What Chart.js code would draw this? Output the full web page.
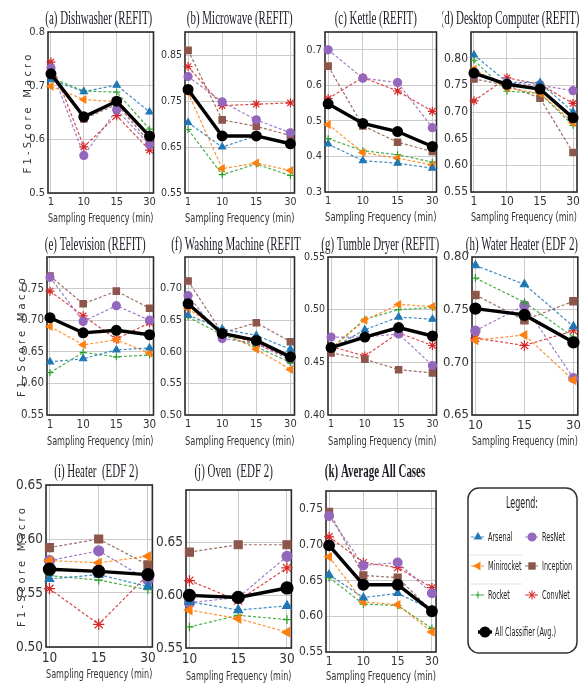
<!DOCTYPE html>
<html>
<head>
<meta charset="utf-8">
<script src="https://cdn.jsdelivr.net/npm/chart.js@4.4.1/dist/chart.umd.min.js"></script>
<style>
  body { margin: 0; background: #fff; }
  #wrap { position: relative; width: 585px; height: 686px; overflow: hidden; }
  canvas { position: absolute; }
</style>
</head>
<body>
<div id="wrap"></div>
<script>
// categories
const freqs4 = ['1', '10', '15', '30'];
const freqs3 = ['10', '15', '30'];
const classifiers = ['Arsenal', 'Minirocket', 'Rocket', 'ResNet', 'Inception', 'ConvNet'];
const avgLabel = 'All Classifier (Avg.)';

// F1 macro per panel: rows = Arsenal, Minirocket, Rocket, ResNet, Inception, ConvNet, Avg
const dishwasher = [
  [0.711, 0.689, 0.701, 0.651],
  [0.699, 0.674, 0.670, 0.605],
  [0.715, 0.690, 0.688, 0.619],
  [0.733, 0.570, 0.655, 0.590],
  [0.725, 0.638, 0.665, 0.595],
  [0.744, 0.586, 0.644, 0.580],
  [0.722, 0.642, 0.671, 0.606]
];
const microwave = [
  [0.703, 0.650, 0.674, 0.655],
  [0.768, 0.603, 0.615, 0.599],
  [0.688, 0.590, 0.613, 0.588],
  [0.803, 0.748, 0.709, 0.681],
  [0.860, 0.709, 0.695, 0.675],
  [0.825, 0.740, 0.743, 0.746],
  [0.775, 0.674, 0.674, 0.657]
];
const kettle = [
  [0.435, 0.388, 0.381, 0.367],
  [0.490, 0.411, 0.395, 0.376],
  [0.450, 0.416, 0.405, 0.384],
  [0.700, 0.620, 0.608, 0.481],
  [0.654, 0.486, 0.440, 0.414],
  [0.563, 0.622, 0.584, 0.527],
  [0.548, 0.493, 0.470, 0.428]
];
const desktop = [
  [0.807, 0.756, 0.755, 0.700],
  [0.780, 0.745, 0.735, 0.680],
  [0.797, 0.739, 0.735, 0.675],
  [0.770, 0.755, 0.750, 0.740],
  [0.762, 0.750, 0.726, 0.624],
  [0.721, 0.764, 0.752, 0.716],
  [0.773, 0.752, 0.743, 0.689]
];
const television = [
  [0.634, 0.639, 0.653, 0.656],
  [0.690, 0.661, 0.669, 0.648],
  [0.617, 0.649, 0.642, 0.645],
  [0.768, 0.698, 0.723, 0.700],
  [0.770, 0.726, 0.746, 0.719],
  [0.746, 0.707, 0.670, 0.696],
  [0.704, 0.680, 0.684, 0.677]
];
const washing = [
  [0.658, 0.636, 0.626, 0.604],
  [0.668, 0.632, 0.604, 0.572],
  [0.655, 0.627, 0.608, 0.583],
  [0.689, 0.621, 0.613, 0.587],
  [0.712, 0.630, 0.646, 0.616],
  [0.674, 0.630, 0.613, 0.590],
  [0.676, 0.629, 0.618, 0.592]
];
const tumble = [
  [0.463, 0.481, 0.493, 0.491],
  [0.463, 0.490, 0.505, 0.503],
  [0.463, 0.491, 0.500, 0.502],
  [0.474, 0.474, 0.477, 0.447],
  [0.459, 0.453, 0.443, 0.440],
  [0.465, 0.456, 0.478, 0.466],
  [0.464, 0.474, 0.483, 0.475]
];
const waterHeater = [
  [0.792, 0.774, 0.734],
  [0.721, 0.726, 0.683],
  [0.780, 0.757, 0.724],
  [0.730, 0.754, 0.685],
  [0.764, 0.740, 0.758],
  [0.723, 0.716, 0.730],
  [0.751, 0.745, 0.719]
];
const heater = [
  [0.563, 0.567, 0.556],
  [0.580, 0.578, 0.584],
  [0.566, 0.562, 0.553],
  [0.580, 0.589, 0.562],
  [0.592, 0.600, 0.576],
  [0.554, 0.521, 0.567],
  [0.572, 0.570, 0.567]
];
const oven = [
  [0.594, 0.586, 0.590],
  [0.586, 0.578, 0.565],
  [0.570, 0.581, 0.577],
  [0.593, 0.598, 0.637],
  [0.641, 0.648, 0.648],
  [0.614, 0.595, 0.626],
  [0.600, 0.598, 0.607]
];
const averageAll = [
  [0.658, 0.626, 0.632, 0.609],
  [0.683, 0.620, 0.616, 0.578],
  [0.654, 0.617, 0.615, 0.583],
  [0.740, 0.671, 0.675, 0.632],
  [0.746, 0.657, 0.654, 0.607],
  [0.711, 0.675, 0.668, 0.640],
  [0.699, 0.644, 0.644, 0.607]
];

// y tick labels per panel
const dishTicks = ['0.5', '0.6', '0.7', '0.8'];
const microTicks = ['0.55', '0.65', '0.75', '0.85'];
const kettleTicks = ['0.3', '0.4', '0.5', '0.6', '0.7'];
const desktopTicks = ['0.55', '0.60', '0.65', '0.70', '0.75', '0.80'];
const tvTicks = ['0.55', '0.60', '0.65', '0.70', '0.75'];
const washTicks = ['0.50', '0.55', '0.60', '0.65', '0.70'];
const tumbleTicks = ['0.40', '0.45', '0.50', '0.55'];
const waterTicks = ['0.65', '0.70', '0.75', '0.80'];
const heaterTicks = ['0.50', '0.55', '0.60', '0.65'];
const ovenTicks = ['0.55', '0.60', '0.65'];
const avgTicks = ['0.55', '0.60', '0.65', '0.70', '0.75'];

const narrow = '"Liberation Sans Narrow", "DejaVu Sans Condensed", "Arial Narrow", sans-serif';
const serif = '"Liberation Serif", "Times New Roman", serif';

const classStyles = [
  { color: '#1f77b4', line: 'rgba(31,119,180,0.85)', pointStyle: 'triangle', rotation: 0, radius: 4 },
  { color: '#ff7f0e', line: 'rgba(255,127,14,0.85)', pointStyle: 'triangle', rotation: -90, radius: 4 },
  { color: '#2ca02c', line: 'rgba(44,160,44,0.85)', pointStyle: 'cross', rotation: 0, radius: 3.5 },
  { color: '#9467bd', line: 'rgba(148,103,189,0.85)', pointStyle: 'circle', rotation: 0, radius: 4 },
  { color: '#8c564b', line: 'rgba(140,86,75,0.85)', pointStyle: 'rect', rotation: 0, radius: 4.5 },
  { color: '#d62728', line: 'rgba(214,39,40,0.85)', pointStyle: 'star', rotation: 0, radius: 4.5 }
];
const avgStyle = { color: '#000', line: '#000', pointStyle: 'circle', rotation: 0, radius: 4.5 };

// the reference titles are a tall, tightly squeezed serif: squeeze so (a) is ~107px wide
function titleSqueeze(ctx) {
  ctx.save();
  ctx.font = '18px ' + serif;
  const w = ctx.measureText('(a) Dishwasher (REFIT)').width;
  ctx.restore();
  return 107 / w;
}

// frame + squeezed serif title + spaced y title
const panelDeco = {
  id: 'panelDeco',
  beforeDatasetsDraw(chart) {
    const { ctx, chartArea: a } = chart;
    ctx.save();
    ctx.strokeStyle = '#2a2a2a';
    ctx.lineWidth = 1.6;
    ctx.strokeRect(a.left, a.top, a.right - a.left, a.bottom - a.top);
    ctx.restore();
  },
  afterDraw(chart, args, o) {
    if (!o.text) return;
    const { ctx, chartArea: a } = chart;
    const k = titleSqueeze(ctx);
    ctx.save();
    ctx.fillStyle = '#1c1c24';
    ctx.font = (o.bold ? 'bold ' : '') + '18px ' + serif;
    ctx.textAlign = 'center';
    ctx.textBaseline = 'middle';
    ctx.translate((a.left + a.right) / 2 + o.dx, o.y);
    ctx.scale(k, 1);
    ctx.fillText(o.text, 0, 0);
    ctx.restore();
    if (o.yTitleX) {
      ctx.save();
      ctx.fillStyle = '#333';
      ctx.font = '10px "DejaVu Sans", sans-serif';
      ctx.letterSpacing = '3.2px';
      ctx.textAlign = 'center';
      ctx.textBaseline = 'middle';
      ctx.translate(o.yTitleX, (a.top + a.bottom) / 2);
      ctx.rotate(-Math.PI / 2);
      ctx.fillText('F1-Score Macro', 0, 0);
      ctx.restore();
    }
  }
};

const colLeft = [0, 156, 298, 442];

const panels = [
  { title: '(a) Dishwasher (REFIT)', series: dishwasher, freqs: freqs4, yMin: 0.5, yMax: 0.8, ticks: dishTicks, plot: [48, 32, 154, 193], col: 0, fs: 11, titleY: 19, dx: -2, yTitleX: 28, xGap: 26, ms: 1 },
  { title: '(b) Microwave (REFIT)', series: microwave, freqs: freqs4, yMin: 0.55, yMax: 0.9, ticks: microTicks, plot: [185, 32, 295, 193], col: 1, fs: 10.5, titleY: 19, dx: 0, xGap: 26, ms: 1 },
  { title: '(c) Kettle (REFIT)', series: kettle, freqs: freqs4, yMin: 0.3, yMax: 0.75, ticks: kettleTicks, plot: [325, 32, 437, 192], col: 2, fs: 11, titleY: 19, dx: -5, xGap: 26, ms: 1 },
  { title: '(d) Desktop Computer (REFIT)', series: desktop, freqs: freqs4, yMin: 0.55, yMax: 0.85, ticks: desktopTicks, plot: [471, 32, 577, 192], col: 3, fs: 12, titleY: 19, dx: -14, xGap: 26, ms: 1 },
  { title: '(e) Television (REFIT)', series: television, freqs: freqs4, yMin: 0.55, yMax: 0.8, ticks: tvTicks, plot: [47, 257, 154, 415], col: 0, fs: 11.5, titleY: 245, dx: -5, yTitleX: 22, xGap: 27, ms: 1 },
  { title: '(f) Washing Machine (REFIT)', series: washing, freqs: freqs4, yMin: 0.5, yMax: 0.75, ticks: washTicks, plot: [185, 257, 295, 415], col: 1, fs: 11, titleY: 245, dx: -2, xGap: 27, ms: 1 },
  { title: '(g) Tumble Dryer (REFIT)', series: tumble, freqs: freqs4, yMin: 0.4, yMax: 0.55, ticks: tumbleTicks, plot: [328, 257, 437, 415], col: 2, fs: 10.5, titleY: 245, dx: -2, xGap: 27, ms: 1 },
  { title: '(h) Water Heater (EDF 2)', series: waterHeater, freqs: freqs3, yMin: 0.65, yMax: 0.8, ticks: waterTicks, plot: [472, 257, 578, 415], col: 3, fs: 13, titleY: 245, dx: -3, xGap: 27, ms: 1.15 },
  { title: '(i) Heater  (EDF 2)', series: heater, freqs: freqs3, yMin: 0.5, yMax: 0.65, ticks: heaterTicks, plot: [46, 485, 154, 647], col: 0, fs: 13.5, titleY: 472, dx: -3, yTitleX: 22, xGap: 28, ms: 1.25 },
  { title: '(j) Oven  (EDF 2)', series: oven, freqs: freqs3, yMin: 0.55, yMax: 0.70, ticks: ovenTicks, plot: [186, 490, 293, 648], col: 1, fs: 13.5, titleY: 472, dx: -5, xGap: 29, ms: 1.25 },
  { title: '(k) Average All Cases', series: averageAll, freqs: freqs4, yMin: 0.55, yMax: 0.775, ticks: avgTicks, plot: [326, 491, 437, 652], col: 2, fs: 12, titleY: 472, dx: -6, bold: true, xGap: 25, ms: 1.1 }
];

const wrap = document.getElementById('wrap');

function makeDatasets(series, ms) {
  return series.map((vals, k) => {
    const isAvg = k === classifiers.length;
    const st = isAvg ? avgStyle : classStyles[k];
    return {
      label: isAvg ? avgLabel : classifiers[k],
      data: vals.map((v, i) => ({ x: i, y: v })),
      borderColor: st.line,
      backgroundColor: st.color,
      pointBackgroundColor: st.color,
      pointBorderColor: st.color,
      borderWidth: isAvg ? 3.4 : 1.2,
      borderDash: isAvg ? [] : [3, 2],
      pointStyle: st.pointStyle,
      pointRotation: st.rotation,
      pointRadius: st.radius * ms,
      pointBorderWidth: isAvg ? 2 : 1.2,
      tension: 0,
      order: isAvg ? 0 : k + 1,
      clip: false
    };
  });
}

panels.forEach(p => {
  const [pl, pt, pr, pb] = p.plot;
  const left = colLeft[p.col];
  const top = pt - 32;
  const right = p.col === 3 ? 585 : pr + 6;
  const xFs = 11.5;
  const xh = Math.round(p.xGap + xFs * 1.2 / 2);
  const canvas = document.createElement('canvas');
  canvas.width = right - left;
  canvas.height = pb - top + xh;
  canvas.style.left = left + 'px';
  canvas.style.top = top + 'px';
  wrap.appendChild(canvas);

  const yw = pl - left;
  const n = p.freqs.length;
  const tickVals = p.ticks.map(Number);

  new Chart(canvas, {
    type: 'line',
    data: { datasets: makeDatasets(p.series, p.ms) },
    plugins: [panelDeco],
    options: {
      responsive: false,
      animation: false,
      events: [],
      layout: { padding: { top: 32, right: right - pr, left: 0, bottom: 0 } },
      plugins: {
        legend: { display: false },
        tooltip: { enabled: false },
        panelDeco: { text: p.title, bold: !!p.bold, dx: p.dx, y: p.titleY - top, yTitleX: p.yTitleX ? p.yTitleX - left : 0 }
      },
      scales: {
        x: {
          type: 'linear',
          min: n === 4 ? -0.09 : -0.07,
          max: n === 4 ? 3.12 : 2.09,
          afterBuildTicks: s => { s.ticks = p.freqs.map((f, i) => ({ value: i })); },
          afterFit: s => { s.height = xh; },
          grid: { color: '#cbcbcb', lineWidth: 1, drawTicks: false },
          border: { display: false },
          ticks: {
            autoSkip: false, maxRotation: 0, padding: 3,
            color: '#333', font: { family: narrow, size: p.fs },
            callback: v => p.freqs[v]
          },
          title: { display: true, text: 'Sampling Frequency (min)', color: '#333', padding: 0, font: { family: narrow, size: xFs } }
        },
        y: {
          min: p.yMin,
          max: p.yMax,
          afterBuildTicks: s => { s.ticks = tickVals.map(v => ({ value: v })); },
          afterFit: s => { s.width = yw; },
          grid: { color: '#cbcbcb', lineWidth: 1, drawTicks: false },
          border: { display: false },
          ticks: {
            autoSkip: false, padding: 3,
            color: '#333', font: { family: narrow, size: p.fs },
            callback: (v, i) => p.ticks[i]
          }
        }
      }
    }
  });
});

// legend panel
const legendCanvas = document.createElement('canvas');
legendCanvas.width = 125;
legendCanvas.height = 185;
legendCanvas.style.left = '460px';
legendCanvas.style.top = '480px';
wrap.appendChild(legendCanvas);

function squeezedText(ctx, text, x, y, k, align) {
  ctx.save();
  ctx.textAlign = align;
  ctx.textBaseline = 'middle';
  ctx.translate(x, y);
  ctx.scale(k, 1);
  ctx.fillText(text, 0, 0);
  ctx.restore();
}

const legendBox = {
  id: 'legendBox',
  afterDraw(chart) {
    const ctx = chart.ctx;
    const sets = chart.data.datasets;
    ctx.save();
    ctx.strokeStyle = '#333';
    ctx.lineWidth = 1.5;
    ctx.beginPath();
    ctx.roundRect(8, 8, 109, 165, 11);
    ctx.stroke();
    ctx.fillStyle = '#222';
    ctx.font = '15px ' + narrow;
    squeezedText(ctx, 'Legend:', 62, 24, 32 / ctx.measureText('Legend:').width, 'center');
    ctx.strokeStyle = '#e2e2e2';
    ctx.lineWidth = 1;
    [75, 104].forEach(y => { ctx.beginPath(); ctx.moveTo(10, y); ctx.lineTo(62, y); ctx.stroke(); });
    ctx.font = '12px ' + narrow;
    const k = 61 / ctx.measureText(avgLabel).width;
    const rows = [57, 86, 115];
    const spots = sets.map((d, i) => i < 6 ? { x: i < 3 ? 18 : 72, y: rows[i % 3] } : { x: 25, y: 152 });
    sets.forEach((d, i) => {
      const s = spots[i];
      const isAvg = i === 6;
      ctx.strokeStyle = d.borderColor;
      ctx.fillStyle = d.pointBackgroundColor;
      ctx.lineWidth = isAvg ? 3.4 : 1.2;
      ctx.setLineDash(isAvg ? [] : [3, 2]);
      ctx.beginPath(); ctx.moveTo(s.x - 7, s.y); ctx.lineTo(s.x + 7, s.y); ctx.stroke();
      ctx.setLineDash([]);
      ctx.lineWidth = isAvg ? 2 : 1.2;
      Chart.helpers.drawPoint(ctx, { pointStyle: d.pointStyle, rotation: d.pointRotation, radius: d.pointRadius, borderWidth: ctx.lineWidth }, s.x, s.y);
      ctx.fillStyle = '#222';
      squeezedText(ctx, d.label, s.x + 10, s.y + 0.5, k, 'left');
    });
    ctx.restore();
  }
};

new Chart(legendCanvas, {
  type: 'line',
  data: { datasets: makeDatasets(classifiers.map(() => []).concat([[]]), 1) },
  plugins: [legendBox],
  options: {
    responsive: false,
    animation: false,
    events: [],
    plugins: { legend: { display: false }, tooltip: { enabled: false } },
    scales: { x: { display: false }, y: { display: false } }
  }
});
</script>
</body>
</html>
